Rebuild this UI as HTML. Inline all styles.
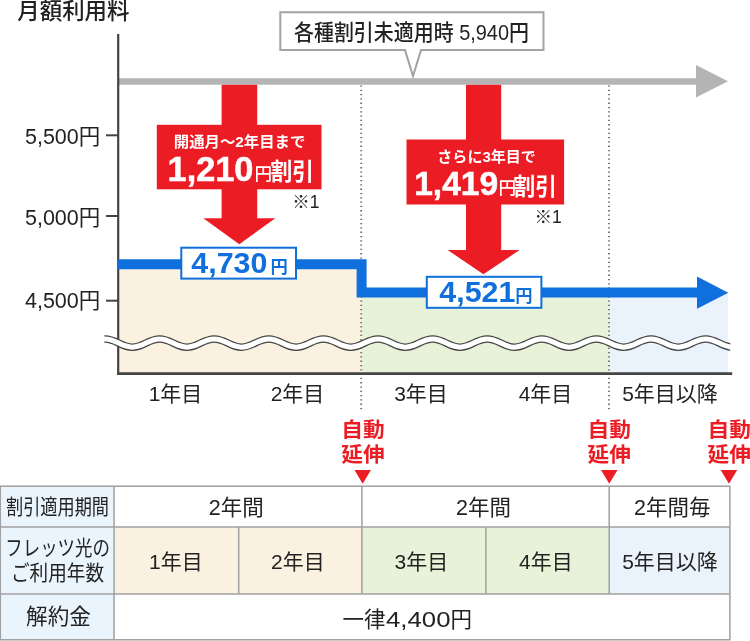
<!DOCTYPE html>
<html lang="ja">
<head>
<meta charset="utf-8">
<title>月額利用料</title>
<style>
html,body{margin:0;padding:0;background:#fff;}
body{width:750px;height:641px;overflow:hidden;font-family:"Liberation Sans", "Noto Sans CJK JP", sans-serif;}
svg{display:block;will-change:transform;}
text{font-family:"Liberation Sans", "Noto Sans CJK JP", sans-serif;fill:#222;}
.b{font-weight:700;}
.w{fill:#fff;}
.red{fill:#ec1c24;}
.blue{fill:#0f6fdc;}
.big{stroke:#fff;stroke-width:0.5px;}
</style>
</head>
<body>
<svg width="750" height="641" viewBox="0 0 750 641">

<!-- title -->
<text x="17.3" y="18.7" font-size="22.45" font-weight="500">月額利用料</text>

<!-- area fills -->
<rect x="119" y="268" width="242.5" height="105" fill="#faf1e0"/>
<rect x="361.5" y="296" width="247.5" height="77" fill="#e7f2d9"/>
<rect x="609" y="292.5" width="119" height="80.5" fill="#eaf3fc"/>

<!-- dotted separators -->
<line x1="361.2" y1="85" x2="361.2" y2="412" stroke="#6a6a6a" stroke-width="1.8" stroke-dasharray="1.3 3" stroke-dashoffset="-0.4"/>
<line x1="609" y1="85" x2="609" y2="412" stroke="#6a6a6a" stroke-width="1.8" stroke-dasharray="1.3 3" stroke-dashoffset="-0.4"/>

<!-- gray base line -->
<line x1="119" y1="81.5" x2="700" y2="81.5" stroke="#b4b4b4" stroke-width="6.6"/>
<polygon points="696,65 728,81.2 696,97.4" fill="#b4b4b4"/>

<!-- callout -->
<path d="M280.3,12.3 H543.5 V50.1 H421 L413,76 L405,50.1 H280.3 Z" fill="#fff" stroke="#a3a3a3" stroke-width="2" stroke-linejoin="miter"/>
<text x="294" y="39.8" font-size="21.5" font-weight="500" textLength="235" lengthAdjust="spacingAndGlyphs">各種割引未適用時 5,940円</text>

<!-- axes -->
<line x1="118.2" y1="34" x2="118.2" y2="374.7" stroke="#444" stroke-width="2.2"/>
<line x1="117.1" y1="373.6" x2="732.2" y2="373.6" stroke="#444" stroke-width="2.8"/>
<line x1="106" y1="135.3" x2="118" y2="135.3" stroke="#444" stroke-width="2"/>
<line x1="106" y1="216" x2="118" y2="216" stroke="#444" stroke-width="2"/>
<line x1="106" y1="300.7" x2="118" y2="300.7" stroke="#444" stroke-width="2"/>
<text x="100.3" y="144" font-size="21.5" text-anchor="end">5,500円</text>
<text x="100.3" y="225" font-size="21.5" text-anchor="end">5,000円</text>
<text x="100.3" y="308" font-size="21.5" text-anchor="end">4,500円</text>

<!-- blue price line -->
<path d="M117.2,264.3 H361.6 V292.5 H700" fill="none" stroke="#0f6fdc" stroke-width="10" stroke-linejoin="miter"/>
<polygon points="697,276.6 728.3,292.7 697,308.8" fill="#0f6fdc"/>

<!-- red arrow 1 -->
<g fill="#ec1c24">
<rect x="221.6" y="84.8" width="35.6" height="136"/>
<rect x="156.8" y="124.8" width="164.7" height="64.5"/>
<polygon points="203.3,218.3 275.3,218.3 239.3,244.2"/>
</g>
<text x="239.6" y="147.4" font-size="15" class="b w" text-anchor="middle" textLength="131.5" lengthAdjust="spacingAndGlyphs">開通月～2年目まで</text>
<text x="167.6" y="180.9" font-size="34.3" class="b w big">1,210</text>
<text x="254.4" y="179.8" font-size="17.6" font-weight="500" class="w">円</text>
<text x="270.5" y="180" font-size="23.5" class="b w" textLength="43.5" lengthAdjust="spacingAndGlyphs">割引</text>
<text x="292.2" y="207.5" font-size="17.5">※1</text>

<!-- red arrow 2 -->
<g fill="#ec1c24">
<rect x="466" y="84.8" width="35.2" height="167"/>
<rect x="406.5" y="139.5" width="157.6" height="65"/>
<polygon points="447.6,250 519.6,250 483.4,274.2"/>
</g>
<text x="486.6" y="162.4" font-size="15" class="b w" text-anchor="middle" textLength="98.5" lengthAdjust="spacingAndGlyphs">さらに3年目で</text>
<text x="414.2" y="195.3" font-size="33.6" class="b w big">1,419</text>
<text x="498.4" y="194.3" font-size="17.6" font-weight="500" class="w">円</text>
<text x="513.6" y="194.5" font-size="23.5" class="b w" textLength="43.5" lengthAdjust="spacingAndGlyphs">割引</text>
<text x="534.6" y="222.9" font-size="17.5">※1</text>

<!-- value boxes -->
<rect x="181.3" y="247.7" width="114.7" height="30.9" fill="#fff" stroke="#0f6fdc" stroke-width="2"/>
<text x="191.3" y="273" font-size="30.4" class="b blue">4,730</text>
<text x="270.6" y="273" font-size="17.3" class="b blue">円</text>
<rect x="426.8" y="276.8" width="114.6" height="31" fill="#fff" stroke="#0f6fdc" stroke-width="2"/>
<text x="439.3" y="302.2" font-size="30.4" class="b blue">4,521</text>
<text x="515.2" y="302.2" font-size="17.3" class="b blue">円</text>

<!-- wave break -->
<clipPath id="wc1"><rect x="104.3" y="325" width="626" height="36"/></clipPath>
<clipPath id="wc2"><rect x="103" y="325" width="629" height="36"/></clipPath>
<g fill="none">
<path d="M50.40,339.00 C61.59,339.00 66.51,347.20 77.70,347.20 C88.89,347.20 93.81,339.00 105.00,339.00 C116.19,339.00 121.11,347.20 132.30,347.20 C143.49,347.20 148.41,339.00 159.60,339.00 C170.79,339.00 175.71,347.20 186.90,347.20 C198.09,347.20 203.01,339.00 214.20,339.00 C225.39,339.00 230.31,347.20 241.50,347.20 C252.69,347.20 257.61,339.00 268.80,339.00 C279.99,339.00 284.91,347.20 296.10,347.20 C307.29,347.20 312.21,339.00 323.40,339.00 C334.59,339.00 339.51,347.20 350.70,347.20 C361.89,347.20 366.81,339.00 378.00,339.00 C389.19,339.00 394.11,347.20 405.30,347.20 C416.49,347.20 421.41,339.00 432.60,339.00 C443.79,339.00 448.71,347.20 459.90,347.20 C471.09,347.20 476.01,339.00 487.20,339.00 C498.39,339.00 503.31,347.20 514.50,347.20 C525.69,347.20 530.61,339.00 541.80,339.00 C552.99,339.00 557.91,347.20 569.10,347.20 C580.29,347.20 585.21,339.00 596.40,339.00 C607.59,339.00 612.51,347.20 623.70,347.20 C634.89,347.20 639.81,339.00 651.00,339.00 C662.19,339.00 667.11,347.20 678.30,347.20 C689.49,347.20 694.41,339.00 705.60,339.00 C716.79,339.00 721.71,347.20 732.90,347.20 C744.09,347.20 749.01,339.00 760.20,339.00 C771.39,339.00 776.31,347.20 787.50,347.20 C798.69,347.20 803.61,339.00 814.80,339.00" stroke="#444" stroke-width="7.4" clip-path="url(#wc1)"/>
<path d="M50.40,339.00 C61.59,339.00 66.51,347.20 77.70,347.20 C88.89,347.20 93.81,339.00 105.00,339.00 C116.19,339.00 121.11,347.20 132.30,347.20 C143.49,347.20 148.41,339.00 159.60,339.00 C170.79,339.00 175.71,347.20 186.90,347.20 C198.09,347.20 203.01,339.00 214.20,339.00 C225.39,339.00 230.31,347.20 241.50,347.20 C252.69,347.20 257.61,339.00 268.80,339.00 C279.99,339.00 284.91,347.20 296.10,347.20 C307.29,347.20 312.21,339.00 323.40,339.00 C334.59,339.00 339.51,347.20 350.70,347.20 C361.89,347.20 366.81,339.00 378.00,339.00 C389.19,339.00 394.11,347.20 405.30,347.20 C416.49,347.20 421.41,339.00 432.60,339.00 C443.79,339.00 448.71,347.20 459.90,347.20 C471.09,347.20 476.01,339.00 487.20,339.00 C498.39,339.00 503.31,347.20 514.50,347.20 C525.69,347.20 530.61,339.00 541.80,339.00 C552.99,339.00 557.91,347.20 569.10,347.20 C580.29,347.20 585.21,339.00 596.40,339.00 C607.59,339.00 612.51,347.20 623.70,347.20 C634.89,347.20 639.81,339.00 651.00,339.00 C662.19,339.00 667.11,347.20 678.30,347.20 C689.49,347.20 694.41,339.00 705.60,339.00 C716.79,339.00 721.71,347.20 732.90,347.20 C744.09,347.20 749.01,339.00 760.20,339.00 C771.39,339.00 776.31,347.20 787.50,347.20 C798.69,347.20 803.61,339.00 814.80,339.00" stroke="#fff" stroke-width="5" clip-path="url(#wc2)"/>
</g>

<!-- year labels -->
<text x="175.5" y="401.2" font-size="21" text-anchor="middle">1年目</text>
<text x="297.5" y="401.2" font-size="21" text-anchor="middle">2年目</text>
<text x="421" y="401.2" font-size="21" text-anchor="middle">3年目</text>
<text x="545.5" y="401.2" font-size="21" text-anchor="middle">4年目</text>
<text x="670" y="401.2" font-size="21" text-anchor="middle">5年目以降</text>

<!-- auto extension markers -->
<g font-size="20.8" text-anchor="middle">
<text x="362.9" y="436.8" class="b red" textLength="43.4" lengthAdjust="spacingAndGlyphs">自動</text>
<text x="362.9" y="462.3" class="b red" textLength="43.4" lengthAdjust="spacingAndGlyphs">延伸</text>
<text x="609.3" y="436.8" class="b red" textLength="43.4" lengthAdjust="spacingAndGlyphs">自動</text>
<text x="609.3" y="462.3" class="b red" textLength="43.4" lengthAdjust="spacingAndGlyphs">延伸</text>
<text x="729.3" y="436.8" class="b red" textLength="43.4" lengthAdjust="spacingAndGlyphs">自動</text>
<text x="729.3" y="462.3" class="b red" textLength="43.4" lengthAdjust="spacingAndGlyphs">延伸</text>
</g>
<g fill="#ec1c24">
<polygon points="354.5,470 370.9,470 362.7,483.8"/>
<polygon points="601,470 617.5,470 609.25,483.8"/>
<polygon points="720.7,470 737.2,470 728.95,483.8"/>
</g>

<!-- table -->
<g>
<rect x="0" y="486.2" width="114" height="153.6" fill="#e9f4fd"/>
<rect x="114" y="527.1" width="248" height="66.8" fill="#faf1e0"/>
<rect x="362" y="527.1" width="247.2" height="66.8" fill="#e7f2d9"/>
<rect x="609.2" y="527.1" width="120.3" height="66.8" fill="#eaf3fc"/>
<g stroke="#a0a0a0" stroke-width="1.5" fill="none">
<rect x="0.3" y="486.2" width="729.6" height="153.6"/>
<line x1="0" y1="527.1" x2="729.9" y2="527.1"/>
<line x1="0" y1="593.9" x2="729.9" y2="593.9"/>
<line x1="114.05" y1="486.2" x2="114.05" y2="639.8"/>
<line x1="361.9" y1="486.2" x2="361.9" y2="593.9"/>
<line x1="609.2" y1="486.2" x2="609.2" y2="593.9"/>
<line x1="238.7" y1="527.1" x2="238.7" y2="593.9"/>
<line x1="485.9" y1="527.1" x2="485.9" y2="593.9"/>
</g>
<text x="6" y="513.7" font-size="21" textLength="103" lengthAdjust="spacingAndGlyphs">割引適用期間</text>
<text x="5.3" y="555" font-size="21" textLength="104.5" lengthAdjust="spacingAndGlyphs">フレッツ光の</text>
<text x="11" y="579.5" font-size="21" textLength="93" lengthAdjust="spacingAndGlyphs">ご利用年数</text>
<text x="58.5" y="624.4" font-size="21.6" text-anchor="middle">解約金</text>
<text x="236.3" y="514.6" font-size="21.5" text-anchor="middle">2年間</text>
<text x="483.5" y="514.6" font-size="21.5" text-anchor="middle">2年間</text>
<text x="672.3" y="514.6" font-size="21.5" text-anchor="middle">2年間毎</text>
<text x="175.8" y="568.8" font-size="21" text-anchor="middle">1年目</text>
<text x="297.8" y="568.8" font-size="21" text-anchor="middle">2年目</text>
<text x="421.4" y="568.8" font-size="21" text-anchor="middle">3年目</text>
<text x="545.8" y="568.8" font-size="21" text-anchor="middle">4年目</text>
<text x="670" y="568.8" font-size="21" text-anchor="middle">5年目以降</text>
<text x="342.5" y="627.3" font-size="21.5">一律</text>
<text x="386" y="627.3" font-size="22.5" textLength="64.5" lengthAdjust="spacingAndGlyphs">4,400</text>
<text x="450.5" y="627.3" font-size="21.5">円</text>
</g>
</svg>
</body>
</html>
